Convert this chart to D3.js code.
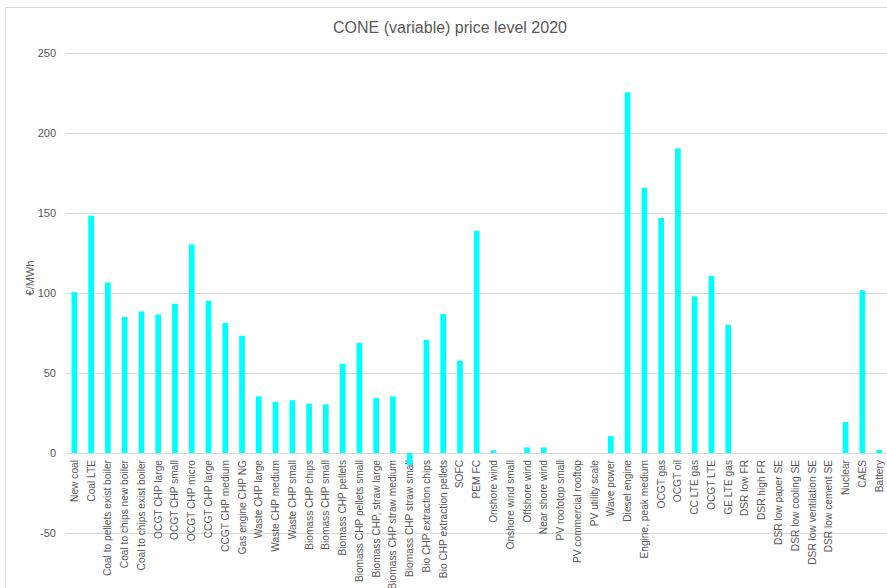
<!DOCTYPE html>
<html>
<head>
<meta charset="utf-8">
<script src="https://cdn.jsdelivr.net/npm/d3@7"></script>
<style>
  html, body { margin: 0; padding: 0; background: #fff; }
  text { font-family: "Liberation Sans Narrow", "Liberation Sans", "Open Sans", sans-serif; fill: #595959; }
</style>
</head>
<body>
<svg id="chart" width="887" height="588"></svg>
<script>
const categories = [
  "New coal", "Coal LTE", "Coal to pellets exist boiler", "Coal to chips new boiler",
  "Coal to chips exist boiler", "OCGT CHP large", "OCGT CHP small", "OCGT CHP micro",
  "CCGT CHP large", "CCGT CHP medium", "Gas engine CHP NG", "Waste CHP large",
  "Waste CHP medium", "Waste CHP small", "Biomass CHP chips", "Biomass CHP small",
  "Biomass CHP pellets", "Biomass CHP pellets small", "Biomass CHP, straw large",
  "Biomass CHP straw medium", "Biomass CHP straw small", "Bio CHP extraction chips",
  "Bio CHP extraction pellets", "SOFC", "PEM FC", "Onshore wind", "Onshore wind small",
  "Offshore wind", "Near shore wind", "PV roofotop small", "PV commercial rooftop",
  "PV utility scale", "Wave power", "Diesel engine", "Engine, peak medium", "OCGT gas",
  "OCGT oil", "CC LTE gas", "OCGT LTE", "GE LTE gas", "DSR low FR", "DSR high FR",
  "DSR low paper SE", "DSR low cooling SE", "DSR low ventilation SE", "DSR low cement SE",
  "Nuclear", "CAES", "Battery"
];
const values = [
  100.5, 148.3, 106.5, 85, 88.5, 86.5, 93.3, 130.4,
  95, 81.3, 73.3, 35.4,
  31.9, 32.9, 30.8, 30.4,
  55.8, 68.8, 34.4,
  35.4, -7.5, 70.6,
  86.9, 57.7, 138.8, 1.7, 0,
  3.5, 3.5, 0, 0,
  0, 10.6, 225.4, 165.8, 146.9,
  190.4, 97.9, 110.8, 80, 0, 0,
  0, 0, 0, 0,
  19.4, 101.7, 1.9
];
const yTicks = [-50, 0, 50, 100, 150, 200, 250];
const title = "CONE (variable) price level 2020";
const yTitle = "€/MWh";

const svg = d3.select("#chart");
svg.append("rect").attr("width", 887).attr("height", 588).attr("fill", "#fff");
// chart border (cropped at right/bottom)
svg.append("rect").attr("x", 5.5).attr("y", 7.5).attr("width", 900).attr("height", 600)
  .attr("fill", "none").attr("stroke", "#d9d9d9");

const x = d3.scaleBand().domain(categories).range([66, 887.5]).paddingInner(0.66).paddingOuter(0.33);
const y = d3.scaleLinear().domain([-50, 250]).range([533, 53]);

// gridlines
svg.append("g").selectAll("line").data(yTicks).join("line")
  .attr("x1", 66).attr("x2", 887)
  .attr("y1", d => Math.round(y(d)) + 0.5).attr("y2", d => Math.round(y(d)) + 0.5)
  .attr("stroke", "#d9d9d9").attr("stroke-width", 1);

// y tick labels
svg.append("g").selectAll("text").data(yTicks).join("text")
  .attr("x", 56).attr("y", d => y(d)).attr("dy", "0.35em")
  .attr("text-anchor", "end").attr("font-size", 11).text(d => d);

// category labels
svg.append("g").selectAll("text").data(categories).join("text")
  .attr("transform", d => `translate(${x(d) + x.bandwidth() / 2 + 3.5},${y(0) + 7}) rotate(-90)`)
  .attr("text-anchor", "end").attr("font-size", 10.2).text(d => d);

// bars
svg.append("g").selectAll("rect").data(values).join("rect")
  .attr("x", (d, i) => x(categories[i]))
  .attr("width", x.bandwidth())
  .attr("y", d => y(Math.max(0, d)))
  .attr("height", d => Math.abs(y(d) - y(0)))
  .attr("fill", "#00ffff");

// titles
svg.append("text").attr("x", 450).attr("y", 33).attr("text-anchor", "middle")
  .attr("font-size", 16).text(title);
svg.append("text").attr("transform", `translate(34,278) rotate(-90)`)
  .attr("text-anchor", "middle").attr("font-size", 11).text(yTitle);
</script>
</body>
</html>
